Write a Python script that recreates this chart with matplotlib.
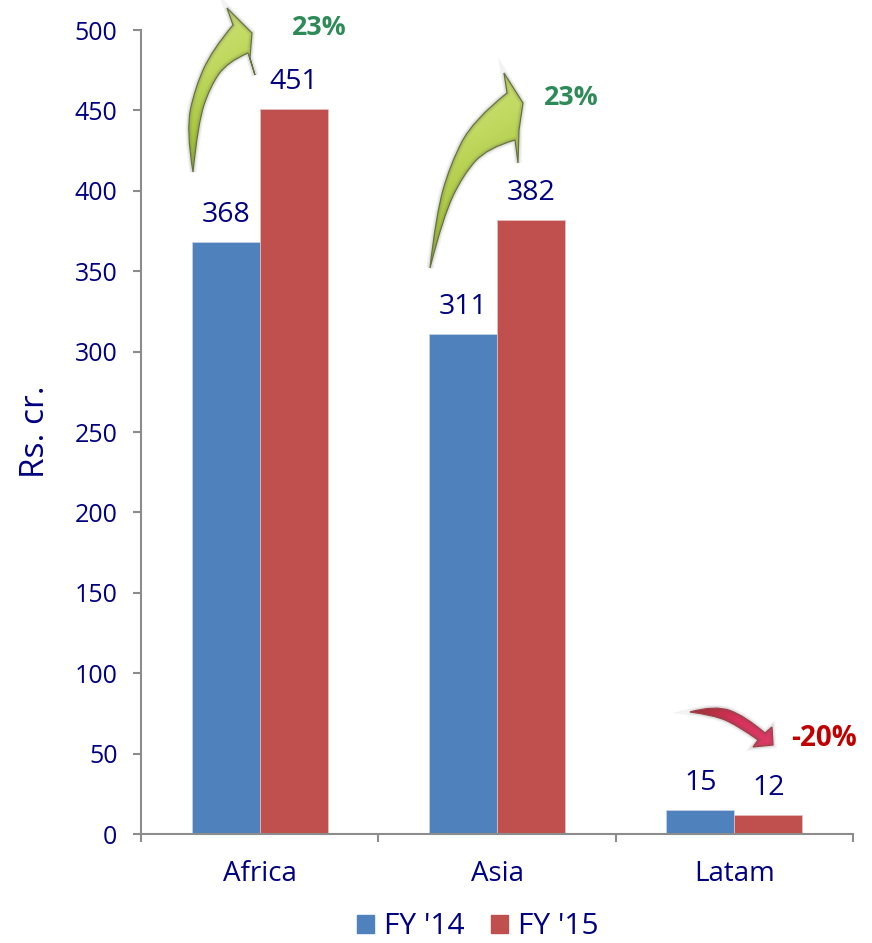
import numpy as np
from matplotlib import pyplot as plt
from matplotlib.patches import PathPatch, Patch
from matplotlib.path import Path
from matplotlib.colors import LinearSegmentedColormap

regions = ['Africa', 'Asia', 'Latam']
fy14 = [368, 311, 15]
fy15 = [451, 382, 12]
y_ticks = [0, 50, 100, 150, 200, 250, 300, 350, 400, 450, 500]

NAVY = '#000080'
GREY = '#8c8c8c'
W, H = 872, 943

plt.rcParams['font.family'] = ['Open Sans', 'DejaVu Sans']

fig = plt.figure(figsize=(W / 100, H / 100), dpi=100)
ax = fig.add_axes([141 / W, (H - 834) / H, 712 / W, 804 / H])

# 两组柱子
bar_w = 68 / (712 / 3)
x = np.arange(len(regions))
bars_14 = ax.bar(x - bar_w / 2, fy14, bar_w, color='#4F81BD', edgecolor='#c9d6e8', linewidth=0.5)
bars_15 = ax.bar(x + bar_w / 2, fy15, bar_w, color='#C0504D', edgecolor='#e3c3c2', linewidth=0.5)

for bars in (bars_14, bars_15):
    for b in bars:
        ax.annotate(str(int(b.get_height())),
                    (b.get_x() + b.get_width() / 2, b.get_height()),
                    xytext=(0, 19.5), textcoords='offset points',
                    ha='center', va='center', fontsize=20.5, color=NAVY)

ax.set_xlim(-0.5, 2.5)
ax.set_ylim(0, 500)
ax.set_yticks(y_ticks)
ax.set_xticks(x)
ax.set_xticklabels(regions)
ax.set_xticks([-0.5, 0.5, 1.5, 2.5], minor=True)
ax.tick_params(axis='x', which='major', length=0, pad=19, labelsize=20, labelcolor=NAVY)
ax.tick_params(axis='x', which='minor', length=6, width=1.5, color=GREY)
ax.tick_params(axis='y', length=6, width=1.5, color=GREY, pad=11, labelsize=18, labelcolor=NAVY)
ax.spines['top'].set_visible(False)
ax.spines['right'].set_visible(False)
ax.spines['left'].set_color(GREY)
ax.spines['bottom'].set_color(GREY)
ax.spines['left'].set_linewidth(1.5)
ax.spines['bottom'].set_linewidth(1.5)
fig.text(36 / W, 1 - 432 / H, 'Rs. cr.', rotation=90, ha='center', va='center',
         fontsize=24, color=NAVY)

handles = [Patch(color='#4F81BD', label="FY '14"), Patch(color='#C0504D', label="FY '15")]
fig.legend(handles=handles, loc='center', bbox_to_anchor=(478 / W, 1 - 927 / H), ncol=2,
           frameon=False, fontsize=21.5, labelcolor=NAVY, handlelength=0.57, handleheight=0.57,
           handletextpad=0.32, columnspacing=0.9, borderpad=0)

# 箭头叠加层,坐标按像素算
over = fig.add_axes([0, 0, 1, 1], facecolor='none')
over.set_xlim(0, W)
over.set_ylim(H, 0)
over.axis('off')


def smooth(points):
    # 二次B样条:控制点之间取中点作为曲线上的点
    verts, codes = [], []
    for i in range(1, len(points) - 1):
        verts.append(points[i])
        codes.append(Path.CURVE3)
        if i < len(points) - 2:
            mid = ((points[i][0] + points[i + 1][0]) / 2, (points[i][1] + points[i + 1][1]) / 2)
        else:
            mid = points[-1]
        verts.append(mid)
        codes.append(Path.CURVE3)
    return verts, codes


def draw_arrow(outer, head, inner, colors, angle, edge):
    verts = [outer[0]]
    codes = [Path.MOVETO]
    v, c = smooth(outer)
    verts += v
    codes += c
    for p in head:
        verts.append(p)
        codes.append(Path.LINETO)
    v, c = smooth([head[-1]] + inner + [outer[0]])
    verts += v
    codes += c
    verts.append(outer[0])
    codes.append(Path.CLOSEPOLY)
    path = Path(verts, codes)

    # 软阴影
    for lw, a in ((5, 0.07), (3, 0.12)):
        over.add_patch(PathPatch(path, facecolor='none', edgecolor='#555555', linewidth=lw, alpha=a))

    xs = [p[0] for p in verts]
    ys = [p[1] for p in verts]
    gx, gy = np.meshgrid(np.linspace(0, 1, 60), np.linspace(0, 1, 60))
    grad = gx * np.cos(angle) + gy * np.sin(angle)
    cmap = LinearSegmentedColormap.from_list('arrow', colors)
    im = over.imshow(grad, cmap=cmap, extent=(min(xs), max(xs), max(ys), min(ys)),
                     aspect='auto', interpolation='bilinear')
    patch = PathPatch(path, facecolor='none', edgecolor=edge, linewidth=0.9)
    over.add_patch(patch)
    im.set_clip_path(patch)


greens = ['#cfe27c', '#c2da62', '#a6c43a', '#8aa828']
draw_arrow([(193, 172), (186, 130), (195, 88), (212, 50), (233, 25)],
           [(227, 8), (252, 33), (250, 58), (255, 75), (248, 53)],
           [(227, 62), (210, 87), (198, 123)],
           greens, 1.3, '#66733f')
draw_arrow([(430, 268), (436, 215), (450, 165), (473, 120), (507, 93)],
           [(504, 73), (523, 103), (519, 130), (518, 163), (515, 140)],
           [(487, 148), (463, 175), (443, 217)],
           greens, 1.3, '#66733f')
draw_arrow([(690, 712), (715, 705), (745, 716), (765, 733)],
           [(772, 727), (773, 745), (753, 747), (758, 740)],
           [(737, 725), (713, 715)],
           ['#a82c30', '#d8315a', '#e03a68'], 0.3, '#a04048')
over.set_xlim(0, W)
over.set_ylim(H, 0)

fig.text(319.5 / W, 1 - 28 / H, '23%', ha='center', va='center', fontsize=19.3,
         fontweight='bold', color='#2E8B57')
fig.text(571.5 / W, 1 - 98 / H, '23%', ha='center', va='center', fontsize=19.3,
         fontweight='bold', color='#2E8B57')
fig.text(823.5 / W, 1 - 739 / H, '-20%', ha='center', va='center', fontsize=20,
         fontweight='bold', color='#C00000')

plt.savefig('out.png', dpi=100)
